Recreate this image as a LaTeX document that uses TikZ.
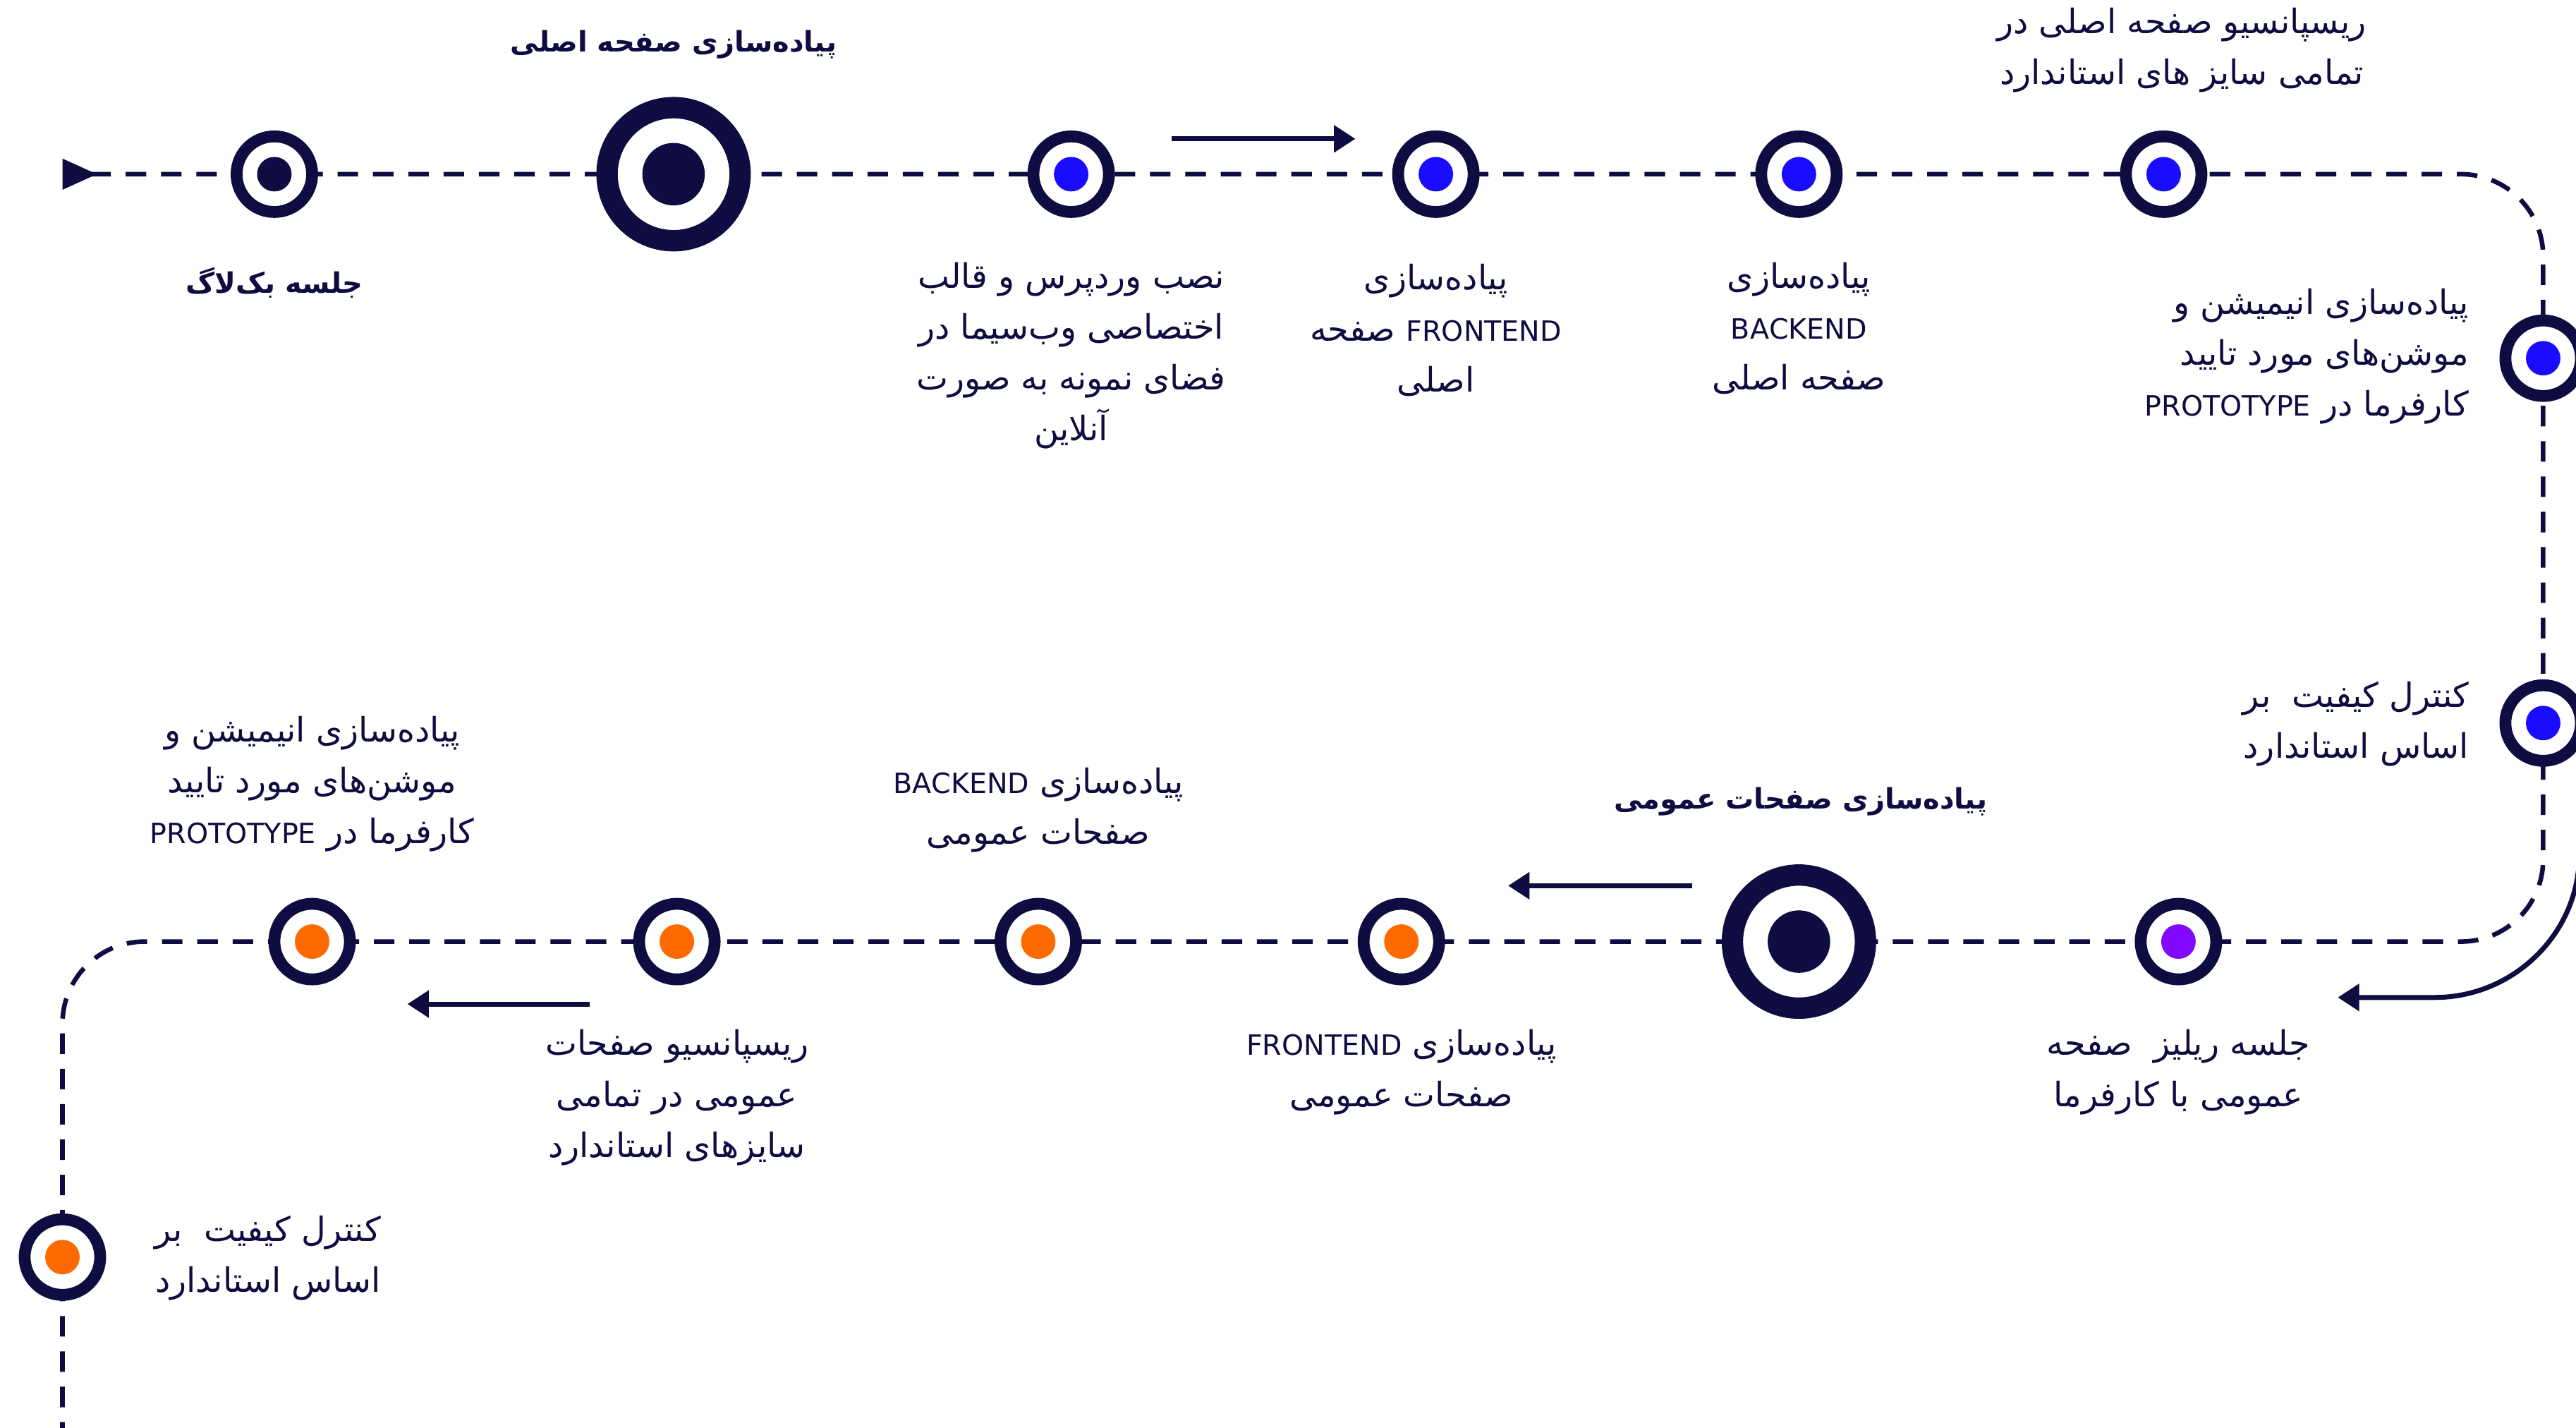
\documentclass[tikz,border=0pt]{standalone}
\usepackage{fontspec}
\TeXXeTstate=1
\newfontfamily\arabicfont[Script=Arabic]{DejaVu Sans}
\usetikzlibrary{arrows.meta,backgrounds}
\definecolor{navy}{HTML}{0E0C40}
\definecolor{dotblue}{HTML}{1A0DFF}
\definecolor{dotorange}{HTML}{FF6A00}
\definecolor{dotpurple}{HTML}{8208FF}
\newcommand\fatxt[1]{\beginR #1\endR}
\newcommand\lat[1]{{\fontsize{17}{31}\selectfont #1}}
\tikzset{
  smalltarget/.style={circle, draw=navy, line width=7.2pt, fill=white,
    minimum size=46pt, inner sep=0pt,
    path picture={\fill[#1] (path picture bounding box.center) circle[radius=10.5pt];}},
  bigtarget/.style={circle, draw=navy, line width=13pt, fill=white,
    minimum size=81pt, inner sep=0pt,
    path picture={\fill[navy] (path picture bounding box.center) circle[radius=19pt];}},
  route/.style={navy, line width=2.8pt, dash pattern=on 12.5pt off 9pt, rounded corners=50pt},
  arr/.style={navy, line width=3pt, -{Triangle[length=13pt,width=16pt]}},
  lbl/.style={text=navy, inner sep=0pt, align=center, font=\arabicfont\fontsize{20.5}{31}\selectfont},
  ttl/.style={lbl, font=\arabicfont\bfseries\fontsize{17.2}{31}\selectfont},
}
\begin{document}
\begin{tikzpicture}[x=1pt,y=-1pt]
\useasboundingbox (0,0) rectangle (1568,869);
% targets
\node[smalltarget=navy] (k1) at (167,106) {};
\node[bigtarget] (k2) at (410,106) {};
\node[smalltarget=dotblue] (k3) at (652,106) {};
\node[smalltarget=dotblue] (k4) at (874,106) {};
\node[smalltarget=dotblue] (k5) at (1095,106) {};
\node[smalltarget=dotblue] (k6) at (1317,106) {};
\node[smalltarget=dotblue] (k7) at (1548,218) {};
\node[smalltarget=dotblue] (k8) at (1548,440) {};
\node[smalltarget=dotpurple] (k9) at (1326,573) {};
\node[bigtarget] (k10) at (1095,573) {};
\node[smalltarget=dotorange] (k11) at (853,573) {};
\node[smalltarget=dotorange] (k12) at (632,573) {};
\node[smalltarget=dotorange] (k13) at (412,573) {};
\node[smalltarget=dotorange] (k14) at (190,573) {};
\node[smalltarget=dotorange] (k15) at (38,765) {};
% route coordinates
\coordinate (st) at (38,106);
\coordinate (rs) at (55,106);
\coordinate (cTR) at (1548,106);
\coordinate (cBR) at (1548,573);
\coordinate (cBL) at (38,573);
\coordinate (rend) at (38,885);
\begin{pgfonlayer}{background}
\fill[white] (0,0) rectangle (1568,869);
\draw[route] (rs) -- (k1.center) -- (k2.center) -- (k3.center) -- (k4.center)
  -- (k5.center) -- (k6.center) -- (cTR) -- (k7.center) -- (k8.center) -- (cBR)
  -- (k9.center) -- (k10.center) -- (k11.center) -- (k12.center) -- (k13.center)
  -- (k14.center) -- (cBL) -- (k15.center) -- (rend);
\end{pgfonlayer}
\fill[navy] (st) ++(0,-9.5) -- ++(21,9.5) -- ++(-21,9.5) -- cycle;
% arrows
\coordinate (a1s) at (713,84.5);
\coordinate (a1e) at (825,84.5);
\coordinate (a2s) at (1030,539);
\coordinate (a2e) at (918,539);
\coordinate (a3s) at (359,611);
\coordinate (a3e) at (248,611);
\coordinate (a4s) at (1570,480);
\coordinate (a4m) at (1482,607);
\coordinate (a4e) at (1423,607);
\draw[arr] (a1s) -- (a1e);
\draw[arr] (a2s) -- (a2e);
\draw[arr] (a3s) -- (a3e);
\draw[arr] (a4s) -- (1570,520) .. controls (1570,568) and (1530,607) .. (a4m) -- (a4e);
% labels
\node[ttl] (l1) at (167,172) {\fatxt{جلسه بک^^^^200cلاگ}};
\node[ttl] (l2) at (410,27) {\fatxt{پیاده^^^^200cسازی صفحه اصلی}};
\node[lbl] (l3) at (652,216.5) {\fatxt{نصب وردپرس و قالب}\\\fatxt{اختصاصی وب^^^^200cسیما در}\\\fatxt{فضای نمونه به صورت}\\\fatxt{آنلاین}};
\node[lbl] (l4) at (874,201) {\fatxt{پیاده^^^^200cسازی}\\\fatxt{\lat{FRONTEND} صفحه}\\\fatxt{اصلی}};
\node[lbl] (l5) at (1095,200) {\fatxt{پیاده^^^^200cسازی}\\\fatxt{\lat{BACKEND}}\\\fatxt{صفحه اصلی}};
\node[lbl] (l6) at (1328,30.5) {\fatxt{ریسپانسیو صفحه اصلی در}\\\fatxt{تمامی سایز های استاندارد}};
\node[lbl, align=right, anchor=east] (l7) at (1503,217) {\fatxt{پیاده^^^^200cسازی انیمیشن و}\\\fatxt{موشن^^^^200cهای مورد تایید}\\\fatxt{کارفرما در \lat{PROTOTYPE}}};
\node[lbl, align=right, anchor=east] (l8) at (1503,440.5) {\fatxt{کنترل کیفیت~~بر}\\\fatxt{اساس استاندارد}};
\node[lbl] (l9) at (1326,652.5) {\fatxt{جلسه ریلیز~~صفحه}\\\fatxt{عمومی با کارفرما}};
\node[ttl] (l10) at (1096,488) {\fatxt{پیاده^^^^200cسازی صفحات عمومی}};
\node[lbl] (l11) at (853,652.5) {\fatxt{پیاده^^^^200cسازی \lat{FRONTEND}}\\\fatxt{صفحات عمومی}};
\node[lbl] (l12) at (632,493) {\fatxt{پیاده^^^^200cسازی \lat{BACKEND}}\\\fatxt{صفحات عمومی}};
\node[lbl] (l13) at (412,668) {\fatxt{ریسپانسیو صفحات}\\\fatxt{عمومی در تمامی}\\\fatxt{سایزهای استاندارد}};
\node[lbl] (l14) at (190,477) {\fatxt{پیاده^^^^200cسازی انیمیشن و}\\\fatxt{موشن^^^^200cهای مورد تایید}\\\fatxt{کارفرما در \lat{PROTOTYPE}}};
\node[lbl, align=right, anchor=west] (l15) at (94,765.5) {\fatxt{کنترل کیفیت~~بر}\\\fatxt{اساس استاندارد}};
\end{tikzpicture}
\end{document}
